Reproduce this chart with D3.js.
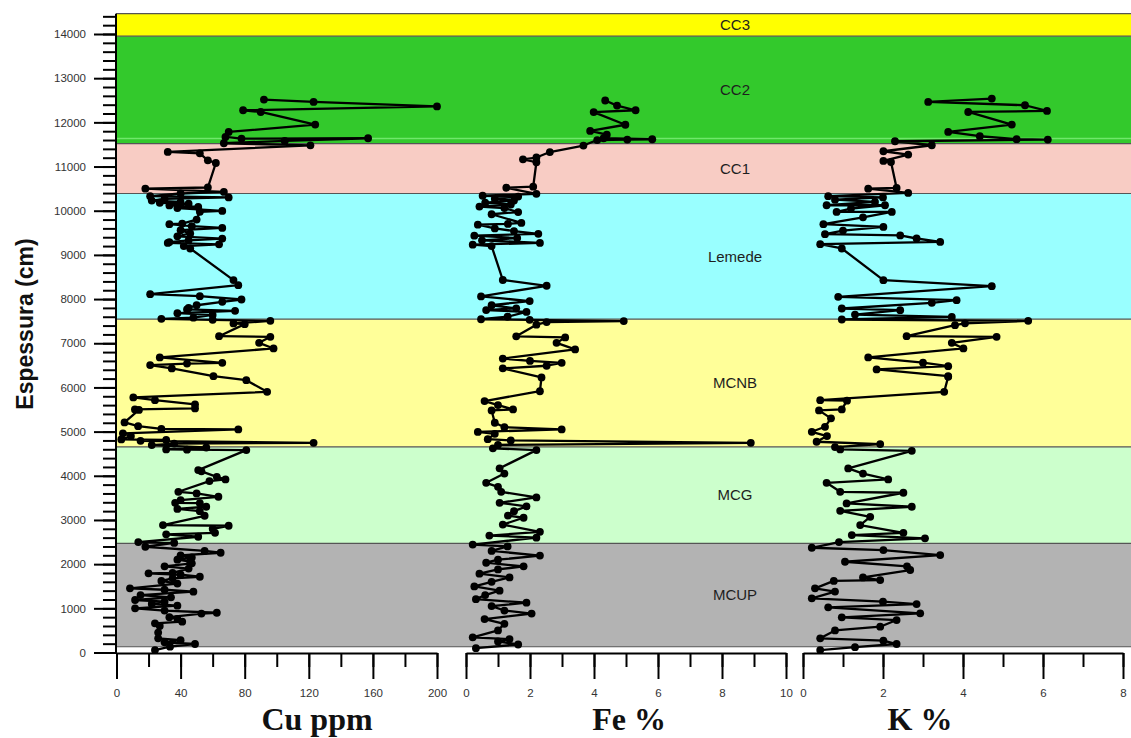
<!DOCTYPE html>
<html><head><meta charset="utf-8">
<script src="https://cdn.jsdelivr.net/npm/d3@7"></script>
<style>body{margin:0;background:#fff;} svg{display:block}</style>
</head><body><svg id="c" width="1131" height="738"></svg>
<script>
// ---- Data ----
const bandNames  = ["MCUP","MCG","MCNB","Lemede","CC1","CC2","CC3"];
const bandBottom = [130, 2470, 4656, 7545, 10390, 11520, 13950];
const bandTop    = [2470, 4656, 7545, 10390, 11520, 13950, 14460];
const bandColors = ["#b3b3b3","#ccffcc","#ffff99","#99ffff","#f8ccc4","#33c92c","#ffff00"];

const depthTicks = d3.range(0, 14001, 1000);
const cuTicks = [0,40,80,120,160,200];
const feTicks = [0,2,4,6,8,10];
const kTicks  = [0,2,4,6,8];

const cuDepth = [12516,12462,12360,12274,12235,11950,11783,11670,11633,11640,11580,11527,11480,11330,11300,11140,11080,10525,10500,10425,10390,10330,10300,10270,10230,10200,10180,10160,10120,10085,10060,9995,9975,9800,9710,9695,9650,9610,9560,9485,9420,9370,9330,9290,9272,9240,9200,9145,8430,8315,8110,8065,7990,7937,7860,7800,7765,7733,7680,7640,7580,7552,7530,7507,7448,7432,7160,7145,7010,6882,6679,6557,6540,6505,6430,6255,6165,5900,5774,5712,5615,5525,5502,5490,5208,5124,5060,5050,4960,4900,4823,4810,4792,4747,4730,4695,4640,4597,4590,4581,4129,4100,3977,3918,3880,3638,3600,3525,3450,3389,3380,3299,3250,3200,3095,2885,2869,2800,2710,2674,2620,2500,2480,2394,2300,2258,2200,2150,2100,2060,2018,1950,1900,1800,1792,1760,1715,1680,1620,1560,1452,1420,1376,1300,1250,1188,1150,1100,1060,1000,950,900,880,800,760,697,660,600,450,321,280,230,192,131,56];
const cuValue = [92,123,200,79,90,124,70,68,78,157,105,67,121,32,52,57,62,57,18,67,40,21,70,30,22,40,27,45,33,51,38,66,52,50,41,33,47,66,40,46,38,66,45,33,32,64,42,46,73,76,21,52,78,66,50,45,44,74,38,60,48,28,60,96,73,80,64,96,89,98,27,66,44,21,34.5,60.5,81,94,10.5,24,49,49,11.5,14,5,13.5,28,76,4,9,3,31,15,123,36,22,56,31,44,81,51,53,62.6,68,58,38.6,50,63.6,40,36.6,52,56,38,52,55,29,70,60,61.5,31,51,13.6,36,18,55,65,40,47,38,46,47,30,45,35,20,40,52,35,28,38,8.4,30,48,15,34,11.6,30,22,38,11.6,30,62.6,53,33,38,41,24,27,26,26,40,30,49,33.4,24];

const feDepth = [12495,12380,12274,12233,11946,11806,11722,11640,11618,11610,11600,11475,11328,11204,11163,11097,10545,10520,10382,10339,10320,10270,10230,10180,10140,10093,10060,9970,9920,9724,9700,9683,9600,9540,9477,9434,9380,9330,9271,9231,9200,8432,8301,8061,7955,7860,7790,7750,7708,7600,7543,7530,7502,7480,7421,7156,7131,7009,6860,6654,6600,6556,6491,6432,6226,5914,5692,5600,5502,5480,5200,5100,5050,4993,4950,4828,4800,4747,4700,4622,4581,4170,4050,3841,3750,3636,3511,3389,3306,3200,3100,3050,2896,2731,2647,2600,2443,2400,2300,2194,2100,2032,1950,1880,1785,1700,1600,1496,1400,1300,1208,1127,1050,950,880,756,650,500,344,303,250,181,97];
const feValue = [4.35,4.72,5.3,3.99,4.98,3.88,4.4,4.3,5.82,5.04,4.1,3.67,2.62,2.2,1.78,2.2,2.1,1.26,2.2,0.52,1.63,0.9,1.5,0.6,1.4,0.42,1.2,1.63,0.8,1.73,1.31,0.37,0.9,1.5,2.26,0.26,1.6,0.5,2.31,0.21,0.8,1.15,2.52,0.47,1.99,0.8,1.57,0.63,1.89,1.3,0.47,1.99,4.93,2.52,2.2,1.57,3.1,2.83,3.41,1.15,2.0,2.99,2.52,1.15,2.36,2.31,0.58,1.0,1.47,0.8,0.9,1.2,2.99,0.37,0.9,0.68,1.4,8.9,1.0,0.84,2.2,1.05,1.2,0.63,1.0,1.1,2.2,1.05,1.89,1.5,1.31,1.8,1.15,2.31,0.73,2.2,0.21,1.3,0.8,2.31,1.0,0.63,1.8,1.0,0.42,1.36,0.8,0.26,1.05,0.6,0.31,1.89,0.8,1.2,2.05,0.58,1.2,1.0,0.21,1.36,1.0,1.63,0.31];

const kDepth = [12538,12462,12387,12258,12235,11950,11783,11686,11620,11610,11572,11482,11346,11271,11127,11100,10516,10500,10403,10328,10300,10250,10200,10124,10124,10050,9973,9973,9850,9695,9633,9550,9468,9440,9371,9294,9242,9145,8428,8292,8050,7975,7914,7787,7749,7650,7597,7538,7507,7450,7409,7160,7145,7009,6882,6679,6560,6482,6407,6256,6240,5900,5712,5700,5502,5480,5300,5109,4996,4900,4770,4717,4650,4597,4565,4167,4050,3918,3841,3638,3616,3375,3299,3208,3072,2885,2710,2658,2584,2500,2371,2319,2206,2054,1950,1867,1700,1640,1620,1452,1380,1226,1150,1097,1023,887,796,735,584,500,321,267,192,120,56];
const kValue = [4.72,3.13,5.55,6.1,4.13,5.22,3.63,4.42,5.34,6.12,2.3,3.22,2.01,2.63,2.01,2.2,2.34,1.63,2.63,0.63,2.0,0.8,1.8,0.59,2.05,1.2,0.84,2.22,1.5,0.51,2.01,1.0,0.55,2.43,2.84,3.43,0.43,0.97,2.01,4.72,0.88,3.84,3.22,0.97,2.43,1.3,3.72,0.97,5.63,4.05,3.8,2.59,4.84,3.72,4.01,1.63,3.0,3.63,1.84,3.63,3.63,3.53,0.43,1.1,0.97,0.4,0.7,0.55,0.22,0.6,0.34,1.93,0.8,0.93,2.72,1.13,1.5,2.13,0.59,0.93,2.51,1.09,2.72,0.93,1.68,1.43,2.51,1.22,3.05,0.9,0.22,2.01,3.43,1.05,2.6,2.68,1.5,1.93,0.77,0.3,0.8,0.22,2.0,2.84,0.63,2.93,0.97,2.34,1.93,0.8,0.43,2.01,2.34,1.3,0.43];

// ---- Chart ----
const svg = d3.select("#c");
const plotLeft = 116, plotRight = 1131, axisY = 653;
const y = d3.scaleLinear().domain([0, 14000]).range([652.5, 34]);
const xCu = d3.scaleLinear().domain([0, 200]).range([116.5, 437]);
const xFe = d3.scaleLinear().domain([0, 10]).range([466, 786]);
const xK  = d3.scaleLinear().domain([0, 8]).range([803, 1123]);

// bands
const bands = bandNames.map((n, i) => ({name: n, b: bandBottom[i], t: bandTop[i], c: bandColors[i]}));
svg.selectAll("rect.band").data(bands).enter().append("rect")
  .attr("x", plotLeft).attr("width", plotRight - plotLeft)
  .attr("y", d => y(d.t)).attr("height", d => y(d.b) - y(d.t))
  .attr("fill", d => d.c);
svg.append("line").attr("x1", plotLeft).attr("x2", plotRight)
  .attr("y1", y(bandBottom[5]) - 5).attr("y2", y(bandBottom[5]) - 5)
  .attr("stroke", "#6fe86a").attr("stroke-width", 1.5);
const bounds = Array.from(new Set(bandBottom.concat(bandTop)));
svg.selectAll("line.bound").data(bounds).enter().append("line")
  .attr("x1", plotLeft).attr("x2", plotRight)
  .attr("y1", d => y(d)).attr("y2", d => y(d))
  .attr("stroke", "#555").attr("stroke-width", 1.2);

// band labels
svg.selectAll("text.band").data(bands).enter().append("text")
  .attr("x", 735).attr("y", d => y((d.b + d.t) / 2)).attr("dy", "0.36em")
  .attr("text-anchor", "middle")
  .attr("font-family", "Arial, 'Liberation Sans', sans-serif").attr("font-size", 15)
  .attr("fill", "#1e1e1e").text(d => d.name);

// series
function drawSeries(depths, vals, x) {
  const pts = depths.map((d, i) => [x(vals[i]), y(d)]);
  svg.append("path").attr("d", d3.line()(pts)).attr("fill", "none")
    .attr("stroke", "#000").attr("stroke-width", 2.3).attr("stroke-linejoin", "round");
  svg.append("g").selectAll("circle").data(pts).enter().append("circle")
    .attr("cx", d => d[0]).attr("cy", d => d[1]).attr("r", 3.9).attr("fill", "#000");
}
drawSeries(cuDepth, cuValue, xCu);
drawSeries(feDepth, feValue, xFe);
drawSeries(kDepth, kValue, xK);

// y axis
const font = "Arial, 'Liberation Sans', sans-serif";
const gyMinor = svg.append("g").attr("transform", `translate(${plotLeft},0)`)
  .call(d3.axisLeft(y).tickValues(d3.range(0, 14401, 200)).tickSize(13).tickFormat(""));
gyMinor.select(".domain").remove();
const gy = svg.append("g").attr("transform", `translate(${plotLeft},0)`)
  .call(d3.axisLeft(y).tickValues(depthTicks).tickSize(22).tickPadding(8).tickFormat(d3.format("d")));
gy.select(".domain").remove();
svg.selectAll("g.tick line").attr("stroke", "#000").attr("stroke-width", 2);
gy.selectAll("text").attr("font-family", font).attr("font-size", 11.5).attr("fill", "#333");
svg.append("line").attr("x1", plotLeft).attr("x2", plotLeft)
  .attr("y1", y(14460)).attr("y2", axisY + 1).attr("stroke", "#000").attr("stroke-width", 2);

// x axes
function xAxis(x, major, minorStep) {
  const [d0, d1] = x.domain();
  const gm = svg.append("g").attr("transform", `translate(0,${axisY})`)
    .call(d3.axisBottom(x).tickValues(d3.range(d0, d1 + 1e-9, minorStep)).tickSize(14).tickSizeOuter(0).tickFormat(""));
  gm.select(".domain").remove();
  const g = svg.append("g").attr("transform", `translate(0,${axisY})`)
    .call(d3.axisBottom(x).tickValues(major).tickSize(26).tickSizeOuter(0).tickPadding(10));
  g.select(".domain").attr("stroke-width", 2);
  g.selectAll("text").attr("font-family", font).attr("font-size", 11.5).attr("fill", "#333");
  svg.selectAll("g.tick line").attr("stroke", "#000").attr("stroke-width", 2);
}
xAxis(xCu, cuTicks, 20);
xAxis(xFe, feTicks, 1);
xAxis(xK, kTicks, 1);

// titles
const serif = "'Times New Roman', 'Liberation Serif', serif";
[["Cu ppm", 317], ["Fe %", 629], ["K %", 920]].forEach(([t, cx]) => {
  svg.append("text").attr("x", cx).attr("y", 730).attr("text-anchor", "middle")
    .attr("font-family", serif).attr("font-weight", "bold").attr("font-size", 32)
    .attr("fill", "#111").text(t);
});
svg.append("text").attr("transform", "translate(33,324) rotate(-90)")
  .attr("text-anchor", "middle").attr("font-family", font).attr("font-weight", "bold")
  .attr("font-size", 23).attr("fill", "#111").text("Espessura (cm)");
</script></body></html>
